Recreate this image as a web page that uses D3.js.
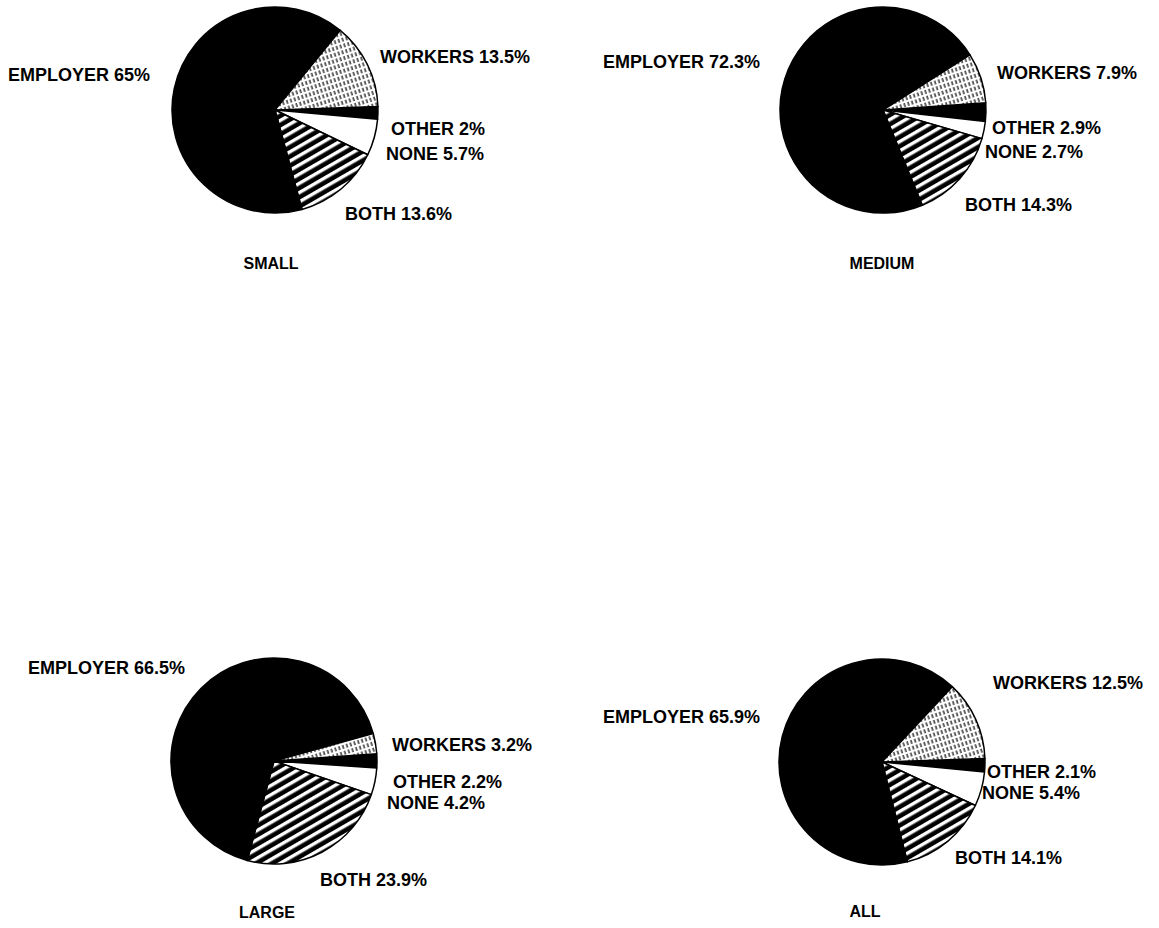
<!DOCTYPE html>
<html>
<head>
<meta charset="utf-8">
<script src="https://cdn.jsdelivr.net/npm/d3@7/dist/d3.min.js"></script>
<style>
  html, body { margin: 0; padding: 0; background: #fff; }
  svg { display: block; }
  text { font-family: "Liberation Sans", Arial, sans-serif; font-weight: bold; fill: #000; }
</style>
</head>
<body>
<svg id="chart" width="1159" height="928"></svg>
<script>
// ---- data ----
const groups = ["SMALL", "MEDIUM", "LARGE", "ALL"];
const categories = ["OTHER", "NONE", "BOTH", "EMPLOYER", "WORKERS"];
const smallValues  = [2,   5.7, 13.6, 65,   13.5];
const mediumValues = [2.9, 2.7, 14.3, 72.3, 7.9];
const largeValues  = [2.2, 4.2, 23.9, 66.5, 3.2];
const allValues    = [2.1, 5.4, 14.1, 65.9, 12.5];
const seriesValues = [smallValues, mediumValues, largeValues, allValues];

// ---- layout (positions / styles only) ----
const layout = [
  { cx: 275, cy: 110, start: 88, title: [-4, 154],
    labels: { EMPLOYER: [-267, -35], WORKERS: [105, -53], OTHER: [116, 19], NONE: [111, 44], BOTH: [70, 104] } },
  { cx: 883, cy: 110, start: 86, title: [-1, 154],
    labels: { EMPLOYER: [-280, -48], WORKERS: [114, -37], OTHER: [109, 18], NONE: [102, 42], BOTH: [82, 95] } },
  { cx: 274, cy: 761, start: 86, title: [-7, 152],
    labels: { EMPLOYER: [-246, -93], WORKERS: [118, -16], OTHER: [119, 21], NONE: [113, 42], BOTH: [46, 119] } },
  { cx: 882, cy: 762, start: 88, title: [-17, 150],
    labels: { EMPLOYER: [-279, -45], WORKERS: [111, -79], OTHER: [105, 10], NONE: [100, 31], BOTH: [73, 96] } }
];
const radius = 103;
const fills = { OTHER: "#000", NONE: "#fff", BOTH: "url(#hatch)", EMPLOYER: "#000", WORKERS: "url(#stipple)" };

const svg = d3.select("#chart");
const defs = svg.append("defs");

// diagonal white stripes on black
const hatch = defs.append("pattern")
  .attr("id", "hatch").attr("patternUnits", "userSpaceOnUse")
  .attr("width", 8).attr("height", 8)
  .attr("patternTransform", "rotate(-30)");
hatch.append("rect").attr("width", 8).attr("height", 8).attr("fill", "#000");
hatch.append("rect").attr("y", 2).attr("width", 8).attr("height", 3.4).attr("fill", "#fff");

// light stippled fine hatch (broken backslash strokes)
const stip = defs.append("pattern")
  .attr("id", "stipple").attr("patternUnits", "userSpaceOnUse")
  .attr("width", 4).attr("height", 6)
  .attr("patternTransform", "rotate(-18)");
stip.append("rect").attr("width", 4).attr("height", 6).attr("fill", "#fff");
stip.append("rect").attr("x", 1.5).attr("y", 0).attr("width", 1.2).attr("height", 4).attr("fill", "#000");

const pie = d3.pie().sort(null).value(d => d.value);
const arc = d3.arc().innerRadius(0).outerRadius(radius);

groups.forEach((g, gi) => {
  const L = layout[gi];
  const vals = seriesValues[gi];
  const data = categories.map((c, i) => ({ cat: c, value: vals[i] }));
  const startRad = L.start * Math.PI / 180;
  pie.startAngle(startRad).endAngle(startRad + 2 * Math.PI);

  const gp = svg.append("g").attr("transform", `translate(${L.cx},${L.cy})`);
  gp.selectAll("path")
    .data(pie(data))
    .join("path")
    .attr("d", arc)
    .attr("fill", d => fills[d.data.cat])
    .attr("stroke", "#000")
    .attr("stroke-width", 1.5)
    .attr("stroke-linejoin", "round");

  data.forEach(d => {
    const off = L.labels[d.cat];
    gp.append("text")
      .attr("x", off[0]).attr("y", off[1] + 6)
      .attr("font-size", 18)
      .text(`${d.cat} ${d.value}%`);
  });

  gp.append("text")
    .attr("x", L.title[0]).attr("y", L.title[1] + 5)
    .attr("text-anchor", "middle")
    .attr("font-size", 16)
    .text(g);
});
</script>
</body>
</html>
